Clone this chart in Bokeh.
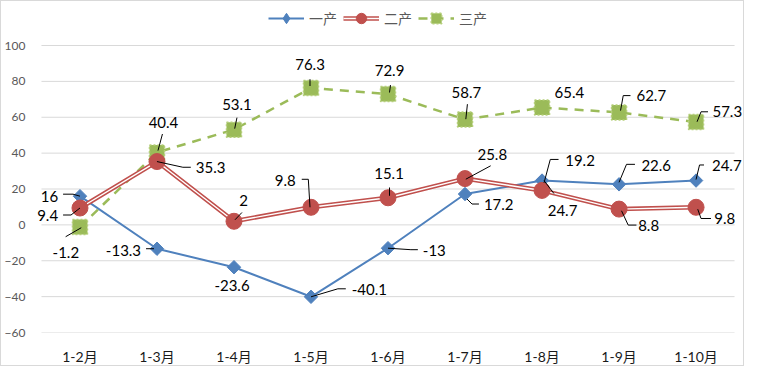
from bokeh.plotting import figure
from bokeh.models import Range1d, FixedTicker, Legend, LegendItem, ColumnDataSource
from bokeh.core.properties import value
from bokeh.embed import file_html
from bokeh.resources import INLINE

# ---------------- data ----------------
categories = ["1-2月", "1-3月", "1-4月", "1-5月", "1-6月", "1-7月", "1-8月", "1-9月", "1-10月"]
primary = [16, -13.3, -23.6, -40.1, -13, 17.2, 24.7, 22.6, 24.7]      # 一产
secondary = [9.4, 35.3, 2, 9.8, 15.1, 25.8, 19.2, 8.8, 9.8]           # 二产
tertiary = [-1.2, 40.4, 53.1, 76.3, 72.9, 58.7, 65.4, 62.7, 57.3]     # 三产
series_names = ["一产", "二产", "三产"]
y_ticks = [-60, -40, -20, 0, 20, 40, 60, 80, 100]

# ---------------- layout / style ----------------
W, H = 744, 366                       # + 1px css border each side = 746 x 368
FL, FR, FT, FB = 30, 744, 0, 331      # frame edges (canvas px)
BL, BR = 36, 733                      # category band edges (canvas px)
YT, YB = 44, 331                      # pixel rows of top / bottom tick
BLUE, RED, GREEN = "#4F81BD", "#C0504D", "#9BBB59"
NUM_FONT = "Lato"
CJK_FONT = "Lato, 'Noto Sans CJK SC'"

# label placement: (dx, dy, align) in screen px relative to the point (dy down)
blue_lbl = [(-22, 0, "right"), (-16, 2, "right"), (-2, 18, "center"), (41, -7, "left"),
            (35, 2, "left"), (19, 10, "left"), (20.6, 30, "center"), (22.5, -19, "left"),
            (16, -15, "left")]
blue_lead = [[(-17, -2), (-7, -2), (0, 0)], [(-11, 0), (-3, 0)], [], [(0, 0), (27, -8), (35, -8)],
             [(0, 0), (23, 1.5), (30, 1.5)], [(2, 5), (7, 10), (14, 10)], [(2, 0), (12, 13)],
             [(0, -2), (7.5, -20), (16, -20)], [(0, -1), (3.5, -15.6), (8, -15.6)]]
red_lbl = [(-22, 7, "right"), (39, 5.7, "left"), (9.7, -20.5, "center"), (-15.3, -26.5, "right"),
           (1, -24.6, "center"), (27.4, -24.4, "center"), (23.3, -29.6, "left"), (19.2, 16.7, "left"),
           (18.4, 11.2, "left")]
red_lead = [[(-17, 7), (-9, 7), (0, 0)], [(0, 0), (26, 5.7), (34, 5.7)], [(1, -1.5), (8, -8.8)],
            [(-1, 0), (-2.7, -28), (-9.3, -28)], [(1.5, -2), (1.5, -10.3)], [(0.8, 0.6), (25.8, -12.8)],
            [(2, -7.6), (8.3, -31), (16.6, -31)], [(2.5, 1.7), (9.2, 16), (17.5, 16)],
            [(1.7, 1.9), (5, 11.2), (15, 11.2)]]
green_lbl = [(-14.2, 25, "center"), (6.5, -30, "center"), (3, -25.4, "center"), (-1, -23.8, "center"),
             (1.5, -23.3, "center"), (1.4, -27, "center"), (12.6, -15, "left"), (17.5, -16.8, "left"),
             (16.5, -10.3, "left")]
green_lead = [[(1.3, 0.7), (-14.4, 9.7)], [(1, -1.8), (5.5, -18.4)], [(0.7, -1), (3, -12)],
              [(-1, -2), (-1, -8.8)], [(1.5, -1.6), (2.5, -9)], [(0.8, -0.4), (2.4, -15.4)], [],
              [(1.5, -1.8), (4.2, -16.8), (11.5, -16.8)], [(1, -0.3), (5, -10.3), (12, -10.3)]]

n = len(categories)
xs = list(range(n))
ppx = (BR - BL) / n
ppy = (YB - YT) / (y_ticks[-1] - y_ticks[0])

p = figure(width=W, height=H, output_backend="svg", toolbar_location=None,
           x_range=Range1d(-0.5 - (BL - FL) / ppx, n - 0.5 + (FR - BR) / ppx),
           y_range=Range1d(y_ticks[0] - (FB - YB) / ppy, y_ticks[-1] + (YT - FT) / ppy),
           min_border_left=FL, min_border_right=W - FR, min_border_top=FT, min_border_bottom=H - FB,
           background_fill_color="white", border_fill_color="white")
p.outline_line_color = None
p.styles = {"border": "1px solid #d9d9d9"}

# axes
p.xaxis.ticker = FixedTicker(ticks=xs)
p.xaxis.major_label_overrides = {i: c for i, c in enumerate(categories)}
p.yaxis.ticker = FixedTicker(ticks=y_ticks)
for ax in (p.xaxis[0], p.yaxis[0]):
    ax.axis_line_color = None
    ax.major_tick_line_color = None
    ax.minor_tick_line_color = None
p.xaxis.major_label_standoff = 9
p.yaxis.major_label_standoff = 4
p.xaxis.major_label_text_font = CJK_FONT
p.xaxis.major_label_text_font_size = "14px"
p.xaxis.major_label_text_color = "#1a1a1a"
p.yaxis.major_label_text_font = NUM_FONT
p.yaxis.major_label_text_font_size = "12px"
p.yaxis.major_label_text_color = "#595959"
p.xgrid.grid_line_color = None
p.ygrid.grid_line_color = None

# horizontal gridlines across the category bands
p.segment(x0=[-0.5] * len(y_ticks), x1=[n - 0.5] * len(y_ticks), y0=y_ticks, y1=y_ticks,
          line_color="#d9d9d9", line_width=1)

# series
b_line = p.line(xs, primary, line_color=BLUE, line_width=2)
b_mark = p.scatter(xs, primary, marker="square", angle=0.785398, size=9.5,
                   fill_color=BLUE, line_color=BLUE)
# legend-only diamond swatch (no visible point in the plot)
b_leg = p.scatter(x=[float("nan")], y=[float("nan")], marker="diamond",
                  fill_color=BLUE, line_color=BLUE)
g_line = p.line(xs, tertiary, line_color=GREEN, line_width=2.5, line_dash="9 7")
g_mark = p.scatter(xs, tertiary, marker="square", size=15, fill_color=GREEN,
                   line_color="#b5cf7a", line_width=1.5, line_dash="2 2")
r_line = p.line(xs, secondary, line_color=RED, line_width=4.5)
r_inner = p.line(xs, secondary, line_color="white", line_width=1.4)
r_mark = p.scatter(xs, secondary, marker="circle", size=16, fill_color=RED, line_color=RED)

# leader lines and data labels
for vals, lbl, lead in ((primary, blue_lbl, blue_lead), (secondary, red_lbl, red_lead),
                        (tertiary, green_lbl, green_lead)):
    lx, ly = [], []
    for i, (v, path) in enumerate(zip(vals, lead)):
        if path:
            lx.append([i + dx / ppx for dx, dy in path])
            ly.append([v - dy / ppy for dx, dy in path])
    p.multi_line(lx, ly, line_color="black", line_width=1)
    for align in ("left", "right", "center"):
        idx = [i for i in range(n) if lbl[i][2] == align]
        if not idx:
            continue
        src = ColumnDataSource(dict(
            x=[i + lbl[i][0] / ppx for i in idx],
            y=[vals[i] - lbl[i][1] / ppy for i in idx],
            t=[f"{vals[i]:g}" for i in idx]))
        p.text("x", "y", text="t", source=src, text_align=align, text_baseline="middle",
               text_font=value(NUM_FONT), text_font_size="15px", text_color="black")

legend = Legend(items=[
    LegendItem(label=series_names[0], renderers=[b_line, b_leg]),
    LegendItem(label=series_names[1], renderers=[r_line, r_inner, r_mark]),
    LegendItem(label=series_names[2], renderers=[g_line, g_mark]),
], orientation="horizontal", location=(233, 301), border_line_color=None,
    background_fill_alpha=0, label_text_font="Noto Sans CJK SC", label_text_font_size="14px",
    label_text_color="#595959", glyph_width=36, glyph_height=26, label_height=26,
    label_standoff=5, spacing=6, padding=2, margin=0)
p.add_layout(legend)

open("out.html", "w").write(file_html(p, INLINE))
